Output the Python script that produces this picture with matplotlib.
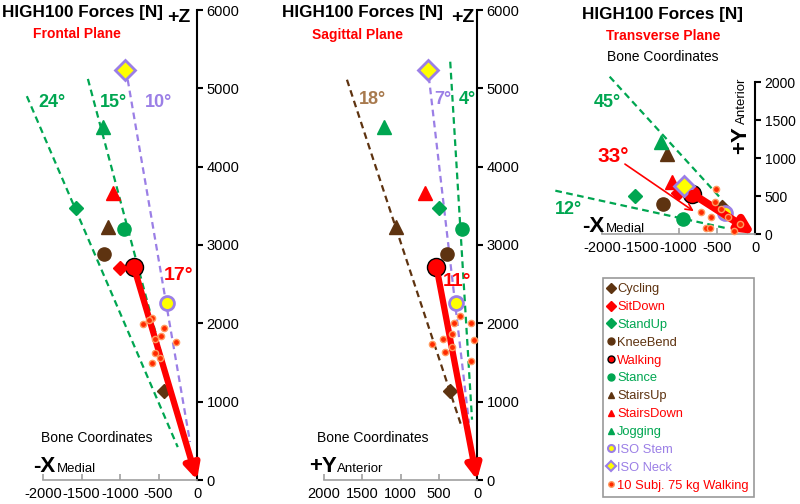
import matplotlib
matplotlib.use("Agg")
import matplotlib.pyplot as plt
from matplotlib.lines import Line2D

plt.rcParams['font.family'] = ['Liberation Sans', 'DejaVu Sans']

# ---------------- data ----------------
series = ["Cycling", "SitDown", "StandUp", "KneeBend", "Walking", "Stance",
          "StairsUp", "StairsDown", "Jogging", "ISO Stem", "ISO Neck"]
force_x = [-430, -1005, -1575, -1205, -820, -945, -1155, -1085, -1225, -395, -930]   # medial (-)
force_y = [350, 540, 500, 390, 530, 200, 1055, 680, 1215, 280, 635]                  # anterior (+)
force_z = [1135, 2710, 3475, 2890, 2720, 3210, 3235, 3660, 4510, 2265, 5230]

# 10 subjects, 75 kg walking
subj_frontal_x = [-700, -585, -430, -470, -270, -550, -590, -625, -549, -480]
subj_frontal_z = [1990, 2070, 1940, 1840, 1760, 1620, 1490, 2040, 1800, 1560]
subj_sagittal_y = [220, 300, 80, 440, 330, 40, 590, 420, 80, 330]
subj_sagittal_z = [2090, 2010, 2000, 1800, 1870, 1790, 1740, 1640, 1520, 1700]
subj_transverse_x = [-510, -520, -710, -575, -640, -590, -275, -450, -350, -200]
subj_transverse_y = [590, 420, 290, 225, 80, 80, 40, 330, 230, 130]

# angle reference lines (start, end)
frontal_lines = {"24°": ((-2210, 4900), (-250, 420)),
                 "15°": ((-1417, 5120), (-156, 470)),
                 "10°": ((-900, 5110), (-91, 485))}
sagittal_lines = {"18°": ((1700, 5110), (196, 665)),
                  "7°": ((630, 5150), (105, 730)),
                  "4°": ((350, 5340), (65, 770))}
transverse_lines = {"45°": ((-1900, 2070), (-430, 450)),
                    "12°": ((-2610, 570), (-390, 80))}

xticks_frontal = [-2000, -1500, -1000, -500, 0]
xticks_sagittal = [2000, 1500, 1000, 500, 0]
zticks = [0, 1000, 2000, 3000, 4000, 5000, 6000]
yticks_transverse = [0, 500, 1000, 1500, 2000]

# ---------------- styles ----------------
BROWN = "#5e3310"
RED = "#ff0000"
GREEN = "#00a651"
PURPLE = "#9b7fe6"
TAN = "#a87a4e"
YELLOW = "#ffff00"

styles = {
    "Cycling":    dict(marker="D", ms=7.5, mfc=BROWN, mec=BROWN, color=BROWN),
    "SitDown":    dict(marker="D", ms=7.5, mfc=RED, mec=RED, color=RED),
    "StandUp":    dict(marker="D", ms=7.5, mfc=GREEN, mec=GREEN, color=GREEN),
    "KneeBend":   dict(marker="o", ms=9.5, mfc=BROWN, mec=BROWN, color=BROWN),
    "Walking":    dict(marker="o", ms=13, mfc=RED, mec="black", mew=1, color=RED),
    "Stance":     dict(marker="o", ms=9.5, mfc=GREEN, mec=GREEN, color=GREEN),
    "StairsUp":   dict(marker="^", ms=10, mfc=BROWN, mec=BROWN, color=BROWN),
    "StairsDown": dict(marker="^", ms=10, mfc=RED, mec=RED, color=RED),
    "Jogging":    dict(marker="^", ms=10, mfc=GREEN, mec=GREEN, color=GREEN),
    "ISO Stem":   dict(marker="o", ms=10, mfc=YELLOW, mec=PURPLE, mew=2, color=PURPLE),
    "ISO Neck":   dict(marker="D", ms=10, mfc=YELLOW, mec=PURPLE, mew=2, color=PURPLE),
}
line_colors = {"24°": GREEN, "15°": GREEN, "10°": PURPLE,
               "18°": BROWN, "7°": PURPLE, "4°": GREEN,
               "45°": GREEN, "12°": GREEN}

W, H = 800, 504
fig = plt.figure(figsize=(W / 100, H / 100), dpi=100)


def px_axes(x0, y0, x1, y1):
    return fig.add_axes([x0 / W, 1 - y1 / H, (x1 - x0) / W, (y1 - y0) / H])


def txt(x, y, s, **kw):
    kw.setdefault("ha", "center")
    kw.setdefault("va", "center")
    fig.text(x / W, 1 - y / H, s, **kw)


def style_axes(ax, xticks, yticks, ypad=3):
    for sp in ("left", "top"):
        ax.spines[sp].set_visible(False)
    ax.spines["right"].set_color("black")
    ax.spines["right"].set_linewidth(1.5)
    ax.spines["bottom"].set_color("#a0a0a0")
    ax.spines["bottom"].set_linewidth(1.2)
    ax.yaxis.tick_right()
    ax.set_xticks(xticks)
    ax.set_yticks(yticks)
    ax.set_xticklabels([str(t) for t in xticks])
    ax.tick_params(axis="y", direction="out", length=4, width=1.5, color="black",
                   labelsize=10.5, pad=ypad)
    ax.tick_params(axis="x", direction="in", length=4, width=1.2, color="#a0a0a0",
                   labelsize=10.5, pad=5)
    ax.patch.set_alpha(0)


def plot_points(ax, xs, ys):
    for name, x, y in zip(series, xs, ys):
        st = dict(styles[name])
        st.pop("color")
        z = 6 if name != "Walking" else 5
        ax.plot([x], [y], ls="none", clip_on=False, zorder=z, **st)


def plot_subj(ax, xs, ys):
    ax.plot(xs, ys, ls="none", marker="o", ms=4.5, mfc="#ff2a00", mec="#ff9a60",
            mew=1, clip_on=False, zorder=8)


def plot_lines(ax, lines):
    for k, ((x0, y0), (x1, y1)) in lines.items():
        ax.plot([x0, x1], [y0, y1], ls=(0, (3, 2)), lw=1.6, color=line_colors[k],
                clip_on=False, zorder=3)


def big_arrow(ax, x, y, lw=4.5, ms=22):
    ax.annotate("", xy=(0, 0), xytext=(x, y), annotation_clip=False,
                arrowprops=dict(arrowstyle="-|>", lw=lw, color=RED,
                                mutation_scale=ms, shrinkA=0, shrinkB=0),
                zorder=7)


iw = series.index("Walking")

# ---------------- Frontal ----------------
ax1 = px_axes(43, 10, 197, 480)
ax1.set_xlim(-2000, 0)
ax1.set_ylim(0, 6000)
style_axes(ax1, xticks_frontal, zticks)
plot_lines(ax1, frontal_lines)
plot_points(ax1, force_x, force_z)
big_arrow(ax1, force_x[iw], force_z[iw])
plot_subj(ax1, subj_frontal_x, subj_frontal_z)

# ---------------- Sagittal ----------------
ax2 = px_axes(324, 10, 477, 480)
ax2.set_xlim(2000, 0)
ax2.set_ylim(0, 6000)
style_axes(ax2, xticks_sagittal, zticks)
plot_lines(ax2, sagittal_lines)
plot_points(ax2, force_y, force_z)
big_arrow(ax2, force_y[iw], force_z[iw])
plot_subj(ax2, subj_sagittal_y, subj_sagittal_z)

# ---------------- Transverse ----------------
ax3 = px_axes(602, 82, 755, 234)
ax3.set_xlim(-2000, 0)
ax3.set_ylim(0, 2000)
style_axes(ax3, xticks_frontal, yticks_transverse, ypad=3)
ax3.tick_params(axis="y", labelsize=10)
plot_lines(ax3, transverse_lines)
plot_points(ax3, force_x, force_y)
plot_subj(ax3, subj_transverse_x, subj_transverse_y)
big_arrow(ax3, force_x[iw], force_y[iw], lw=5.5, ms=22)
ax3.annotate("", xy=(-800, 300), xytext=(-1700, 920), annotation_clip=False,
             arrowprops=dict(arrowstyle="->", lw=1.2, color=RED, mutation_scale=12,
                             shrinkA=0, shrinkB=0), zorder=9)

# ---------------- texts ----------------
title = "HIGH100 Forces [N]"
TS = 12.3
txt(2, 13, title, ha="left", fontsize=TS, fontweight="bold")
txt(179, 18, "+Z", fontsize=14, fontweight="bold")
txt(77, 34, "Frontal Plane", fontsize=10, fontweight="bold", color=RED)
txt(52, 103, "24°", fontsize=13, fontweight="bold", color=GREEN)
txt(113, 103, "15°", fontsize=13, fontweight="bold", color=GREEN)
txt(158, 103, "10°", fontsize=13, fontweight="bold", color=PURPLE)
txt(179, 275, "17°", fontsize=14, fontweight="bold", color=RED)
txt(97, 438, "Bone Coordinates", fontsize=10)
txt(33, 467, "-X", ha="left", fontsize=16, fontweight="bold")
txt(57, 469, "Medial", ha="left", fontsize=9.5)

txt(282, 13, title, ha="left", fontsize=TS, fontweight="bold")
txt(463, 18, "+Z", fontsize=14, fontweight="bold")
txt(357, 35, "Sagittal Plane", fontsize=10, fontweight="bold", color=RED)
txt(372, 99, "18°", fontsize=13, fontweight="bold", color=TAN)
txt(443, 100, "7°", fontsize=13, fontweight="bold", color=PURPLE)
txt(467, 100, "4°", fontsize=13, fontweight="bold", color=GREEN)
txt(457, 282, "11°", fontsize=14, fontweight="bold", color=RED)
txt(373, 438, "Bone Coordinates", fontsize=10)
txt(309, 467, "+Y", ha="left", fontsize=16, fontweight="bold")
txt(337, 469, "Anterior", ha="left", fontsize=9.5)

txt(663, 14, title, fontsize=TS, fontweight="bold")
txt(663, 36, "Transverse Plane", fontsize=10, fontweight="bold", color=RED)
txt(663, 57, "Bone Coordinates", fontsize=10)
txt(607, 103, "45°", fontsize=13, fontweight="bold", color=GREEN)
txt(613, 156, "33°", fontsize=15, fontweight="bold", color=RED)
txt(568, 209, "12°", fontsize=13, fontweight="bold", color=GREEN)
txt(582, 227, "-X", ha="left", fontsize=16, fontweight="bold")
txt(606, 229, "Medial", ha="left", fontsize=9.5)
txt(741, 140, "+Y", rotation=90, fontsize=16, fontweight="bold")
txt(742, 101, "Anterior", rotation=90, fontsize=9.5)

# ---------------- legend ----------------
handles = []
labels = []
text_colors = []
for name in series:
    st = dict(styles[name])
    c = st.pop("color")
    st["ms"] = 5
    if "mew" in st:
        st["mew"] = 1.5 if name != "Walking" else 1
    handles.append(Line2D([], [], ls="none", **st))
    labels.append(name)
    text_colors.append(c)
handles.append(Line2D([], [], ls="none", marker="o", ms=4, mfc="#ff2a00", mec="#ff9a60", mew=1))
labels.append("10 Subj. 75 kg Walking")
text_colors.append(RED)

leg = fig.legend(handles, labels, loc="upper left",
                 bbox_to_anchor=(603 / W, 1 - 278 / H, (754 - 603) / W, 0),
                 mode="expand", fontsize=9.3, frameon=True, fancybox=False,
                 edgecolor="#808080", handlelength=0.5, handletextpad=0.2,
                 labelspacing=0.45, borderpad=0.4, borderaxespad=0)
leg.get_frame().set_linewidth(1.2)
for t, c in zip(leg.get_texts(), text_colors):
    t.set_color(c)

fig.savefig("out.png", dpi=100)
